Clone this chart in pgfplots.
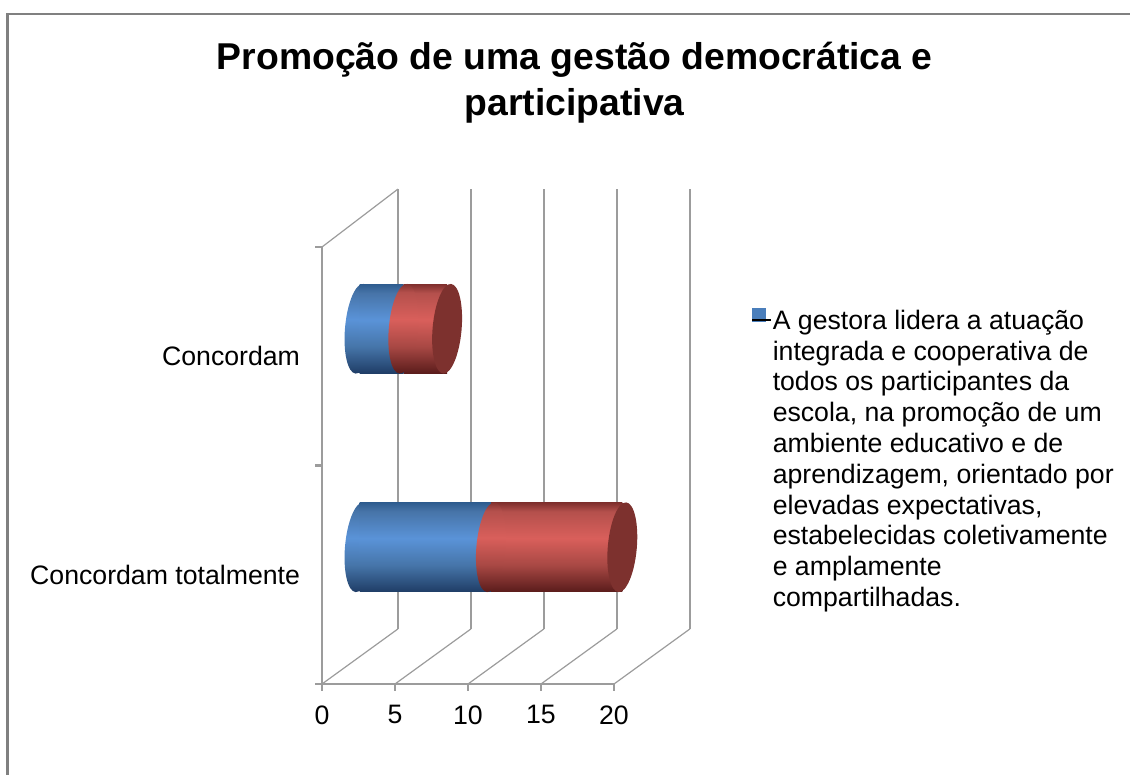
\documentclass[border=0pt]{standalone}
\usepackage{fontspec}
\setmainfont{Liberation Sans}
\usepackage{pgfplots}
\pgfplotsset{compat=1.18}
\usetikzlibrary{shapes.geometric}

% 1 px of the reference = 0.75pt here
\definecolor{wallgray}{HTML}{9C9C9C}
\definecolor{framegray}{HTML}{808080}
\definecolor{legblue}{HTML}{4A7EBB}
\definecolor{capred}{HTML}{7D312E}
\definecolor{b0}{HTML}{1F3D66}
\definecolor{b1}{HTML}{4675A9}
\definecolor{b2}{HTML}{5A93D8}
\definecolor{b3}{HTML}{4774A8}
\definecolor{b4}{HTML}{2E5C8F}
\definecolor{r0}{HTML}{5A1C1B}
\definecolor{r1}{HTML}{A84844}
\definecolor{r2}{HTML}{D95F5B}
\definecolor{r3}{HTML}{B4504C}
\definecolor{r4}{HTML}{7F2F2D}

\pgfdeclareverticalshading{bluecyl}{100bp}{
  color(0bp)=(b0); color(25bp)=(b0); color(40bp)=(b1);
  color(55bp)=(b2); color(70bp)=(b3); color(75bp)=(b4); color(100bp)=(b4)}
\pgfdeclareverticalshading{redcyl}{100bp}{
  color(0bp)=(r0); color(25bp)=(r0); color(40bp)=(r1);
  color(55bp)=(r2); color(70bp)=(r3); color(75bp)=(r4); color(100bp)=(r4)}

\pgfplotsset{
  cyl axis/.style={
    at={(269.625pt,88.125pt)}, anchor=south west,
    scale only axis, width=219pt, height=327.75pt,
    xmin=0, xmax=20, ymin=0.5, ymax=2.5,
    clip=false, hide axis},
  cyl bars/.style={cyl axis, xbar stacked, bar width=67pt},
  cyl end/.style={
    only marks, mark=none,
    nodes near coords={\phantom{.}},
    nodes near coords align={anchor=center},
    every node near coord/.append style={
      ellipse, inner sep=0pt, minimum width=21.75pt, minimum height=67.5pt,
      rotate=-5, #1}},
  floor/.style={wallgray, line width=0.9pt},
  wall/.style={wallgray, line width=#1},
}

\begin{document}
\begin{tikzpicture}
\path[use as bounding box] (0pt,0pt) rectangle (847.5pt,580.5pt);
\draw[framegray, line width=2pt] (5.6pt,-5pt) -- (5.6pt,570pt) -- (852pt,570pt);

% walls and axes
\begin{axis}[
  at={(241.5pt,67.5pt)}, anchor=south west,
  scale only axis, width=219pt, height=327.75pt,
  xmin=0, xmax=20, ymin=0.5, ymax=2.5,
  clip=false,
  axis x line*=bottom, axis y line*=left,
  axis line style={draw=none},
  xtick={0,5,10,15,20},
  ytick={0.5,1.5,2.5}, yticklabels={},
  extra y ticks={1,2},
  extra y tick labels={Concordam totalmente,Concordam},
  extra y tick style={major tick length=0pt,
    yticklabel style={xshift=-13pt}},
  tick style={wallgray, line width=1.6pt},
  tick align=outside, major tick length=5pt,
  xticklabel style={yshift=-7.5pt},
  tick label style={font=\fontsize{20}{24}\selectfont, black},
  /pgf/number format/assume math mode=true,
]
\addplot[floor] coordinates {(0,2.5) (5.2,2.765)};
\addplot[floor] coordinates {(0,0.5) (5.2,0.752)};
\addplot[floor] coordinates {(5,0.5) (10.2,0.752)};
\addplot[floor] coordinates {(10,0.5) (15.2,0.752)};
\addplot[floor] coordinates {(15,0.5) (20.2,0.752)};
\addplot[floor] coordinates {(20,0.5) (25.2,0.752)};
\addplot[wall=1.1pt] coordinates {(5.2,0.752) (5.2,2.765)};
\addplot[wall=1.4pt] coordinates {(10.2,0.752) (10.2,2.765)};
\addplot[wall=2pt] coordinates {(15.2,0.752) (15.2,2.765)};
\addplot[wall=2pt] coordinates {(20.2,0.752) (20.2,2.765)};
\addplot[wall=2pt] coordinates {(25.2,0.752) (25.2,2.765)};
\addplot[wall=2pt] coordinates {(0,0.5) (0,2.5)};
\addplot[wall=1.7pt] coordinates {(0,0.5) (20,0.5)};
\end{axis}

% rounded near ends of the blue part
\begin{axis}[cyl axis]
\addplot[cyl end={shade, shading=bluecyl}] coordinates {(0,1) (0,2)};
\end{axis}

% stacked bars, one axis per category so each bar gets its own shading
\begin{axis}[cyl bars,
  legend style={at={(1.344,0.7995)}, anchor=north west, draw=none, fill=none,
    inner sep=0pt, font=\fontsize{20}{23.1}\selectfont},
  legend cell align=left,
]
\addplot[draw=none, shade, shading=bluecyl, forget plot] coordinates {(9,1)};
\addplot[draw=none, shade, shading=redcyl, forget plot] coordinates {(9,1)};
\addlegendimage{legend image code/.code={
  \fill[legblue] (0pt,-0.5pt) rectangle (9.5pt,9pt);
  \path (0pt,0pt) rectangle (13pt,1pt);}}
\addlegendentry{\parbox[t]{270pt}{\raggedright A gestora lidera a atuação\\
  integrada e cooperativa de\\ todos os participantes da\\
  escola, na promoção de um\\ ambiente educativo e de\\
  aprendizagem, orientado por\\ elevadas expectativas,\\
  estabelecidas coletivamente\\ e amplamente\\ compartilhadas.}}
\end{axis}
\begin{axis}[cyl bars]
\addplot[draw=none, shade, shading=bluecyl] coordinates {(3,2)};
\addplot[draw=none, shade, shading=redcyl] coordinates {(3,2)};
\end{axis}

% red part's left edge and the dark end caps
\begin{axis}[cyl axis]
\addplot[cyl end={shade, shading=redcyl}] coordinates {(9,1) (3,2)};
\addplot[cyl end={fill=capred}] coordinates {(18,1) (6,2)};
\end{axis}

\node[align=center, font=\fontsize{28}{34.5}\selectfont\bfseries, anchor=base]
  at (431pt,493.5pt) {Promoção de uma gestão democrática e\\ participativa};
\end{tikzpicture}
\end{document}
